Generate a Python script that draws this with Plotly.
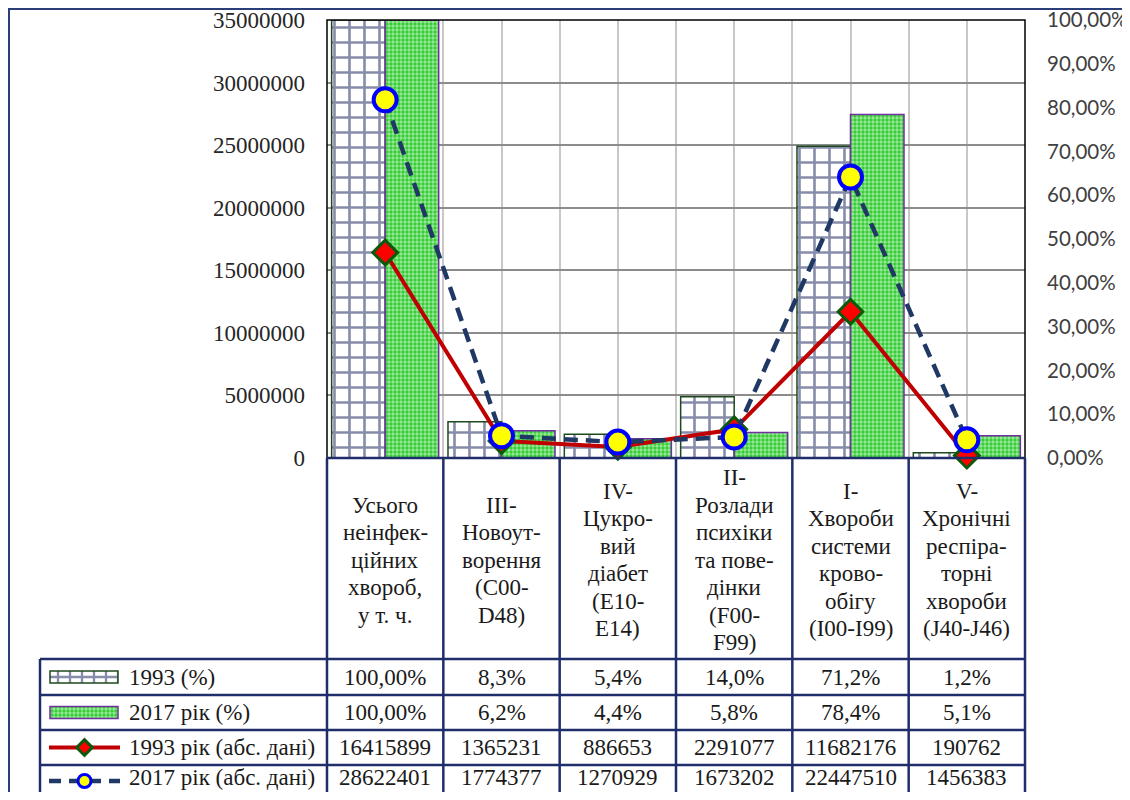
import plotly.graph_objects as go

# ---------------- data ----------------
categories = [
    ["Усього", "неінфек-", "ційних", "хвороб,", "у т. ч."],
    ["III-", "Новоут-", "ворення", "(C00-", "D48)"],
    ["IV-", "Цукро-", "вий", "діабет", "(E10-", "E14)"],
    ["II-", "Розлади", "психіки", "та пове-", "дінки", "(F00-", "F99)"],
    ["I-", "Хвороби", "системи", "крово-", "обігу", "(I00-I99)"],
    ["V-", "Хронічні", "респіра-", "торні", "хвороби", "(J40-J46)"],
]
series_names = ["1993 (%)", "2017 рік (%)", "1993 рік (абс. дані)", "2017 рік (абс. дані)"]
pct_1993 = [1.0, 0.083, 0.054, 0.140, 0.712, 0.012]
pct_2017 = [1.0, 0.062, 0.044, 0.058, 0.784, 0.051]
abs_1993 = [16415899, 1365231, 886653, 2291077, 11682176, 190762]
abs_2017 = [28622401, 1774377, 1270929, 1673202, 22447510, 1456383]
left_ticks = [0, 5000000, 10000000, 15000000, 20000000, 25000000, 30000000, 35000000]
right_ticks = [i / 10 for i in range(11)]

# ---------------- geometry helpers (screen pixels -> paper) ----------------
W, H = 1122, 784
OFF = 8  # page body margin


def PX(x):
    return (x - OFF) / W


def PY(y):
    return 1 - (y - OFF) / H


PL, PR, PT, PB = 327, 1025, 20, 458
n = len(categories)
idx = list(range(n))
colw = (PR - PL) / n

NAVY = "#1f2d6b"
GRIDNAVY = "#101a55"
GREEN = "#2ecc2e"
SERIF = "Liberation Serif"

grid_pattern = dict(shape="+", fgcolor=GRIDNAVY, bgcolor="white", size=15, solidity=0.32)
check_pattern = dict(shape=".", fgcolor="white", bgcolor=GREEN, size=4, solidity=0.55)

fig = go.Figure()

# bars (percent, right axis = primary y)
fig.add_trace(go.Bar(
    x=idx, y=pct_1993, name=series_names[0], yaxis="y", xaxis="x",
    marker=dict(color="white", line=dict(color="#1c4a1c", width=1.5), pattern=grid_pattern),
))
fig.add_trace(go.Bar(
    x=idx, y=pct_2017, name=series_names[1], yaxis="y", xaxis="x",
    marker=dict(color=GREEN, line=dict(color="#7030a0", width=1.5), pattern=check_pattern),
))
# lines (absolute, left axis = y2 overlay)
fig.add_trace(go.Scatter(
    x=idx, y=abs_1993, name=series_names[2], yaxis="y2", xaxis="x", mode="lines+markers",
    line=dict(color="#c00000", width=4),
    marker=dict(symbol="diamond", size=19, color="#ff0000", line=dict(color="#0b5a0b", width=3)),
    cliponaxis=False,
))
fig.add_trace(go.Scatter(
    x=idx, y=abs_2017, name=series_names[3], yaxis="y2", xaxis="x", mode="lines+markers",
    line=dict(color="#1f3864", width=4.5, dash="14px,8px"),
    marker=dict(symbol="circle", size=23, color="#ffff00", line=dict(color="#0000ff", width=4)),
    cliponaxis=False,
))

# ---------------- legend keys in the data table ----------------
row_lines = [659, 695, 730, 765, 805]
key_rows = [677, 712.5, 747.5, 781]
text_rows = [677, 712.5, 747.5, 777]
fig.add_trace(go.Bar(
    x=[68], base=[50], y=[key_rows[0]], orientation="h", width=12, offset=-6,
    xaxis="x3", yaxis="y3",
    marker=dict(color="white", line=dict(color="#1c4a1c", width=1.5),
                pattern=dict(shape="+", fgcolor=GRIDNAVY, bgcolor="white", size=12, solidity=0.35)),
))
fig.add_trace(go.Bar(
    x=[68], base=[50], y=[key_rows[1]], orientation="h", width=12, offset=-6,
    xaxis="x3", yaxis="y3",
    marker=dict(color=GREEN, line=dict(color="#7030a0", width=1.5), pattern=check_pattern),
))
fig.add_trace(go.Scatter(
    x=[49, 120], y=[key_rows[2]] * 2, mode="lines", xaxis="x3", yaxis="y3",
    line=dict(color="#c00000", width=4),
))
fig.add_trace(go.Scatter(
    x=[84.5], y=[key_rows[2]], mode="markers", xaxis="x3", yaxis="y3",
    marker=dict(symbol="diamond", size=12, color="#ff0000", line=dict(color="#0b5a0b", width=3)),
))
fig.add_trace(go.Scatter(
    x=[49, 120], y=[key_rows[3]] * 2, mode="lines", xaxis="x3", yaxis="y3",
    line=dict(color="#1f3864", width=4.5, dash="12px,8px"),
))
fig.add_trace(go.Scatter(
    x=[84.5], y=[key_rows[3]], mode="markers", xaxis="x3", yaxis="y3",
    marker=dict(symbol="circle", size=13, color="#ffff00", line=dict(color="#0000ff", width=3)),
))

# ---------------- shapes ----------------
shapes = []
# outer chart border
shapes.append(dict(type="rect", xref="paper", yref="paper",
                   x0=PX(9), x1=PX(1150), y0=PY(820), y1=PY(9),
                   line=dict(color="#2a3f7a", width=2), layer="below"))
# plot area border
shapes.append(dict(type="rect", xref="paper", yref="paper",
                   x0=PX(PL), x1=PX(PR), y0=PY(PB), y1=PY(PT),
                   line=dict(color="black", width=1.5), layer="above"))
# table lines
for k in range(n + 1):
    xk = PL + k * colw
    shapes.append(dict(type="line", xref="paper", yref="paper",
                       x0=PX(xk), x1=PX(xk), y0=PY(PB), y1=PY(820),
                       line=dict(color=NAVY, width=2.5), layer="above"))
shapes.append(dict(type="line", xref="paper", yref="paper",
                   x0=PX(40), x1=PX(40), y0=PY(row_lines[0]), y1=PY(820),
                   line=dict(color=NAVY, width=2.5), layer="above"))
shapes.append(dict(type="line", xref="paper", yref="paper",
                   x0=PX(PL), x1=PX(PR), y0=PY(PB), y1=PY(PB),
                   line=dict(color=NAVY, width=2.5), layer="above"))
for yr in row_lines:
    shapes.append(dict(type="line", xref="paper", yref="paper",
                       x0=PX(40), x1=PX(PR), y0=PY(yr), y1=PY(yr),
                       line=dict(color=NAVY, width=2.5), layer="above"))

# ---------------- annotations ----------------
ann = []
txtfont = dict(family=SERIF, size=23, color="#1a1a1a")
# category headers
for i, lines in enumerate(categories):
    cx = PL + (i + 0.5) * colw
    m = len(lines)
    for j, t in enumerate(lines):
        yy = 560 + (j - (m - 1) / 2) * 27.5
        ann.append(dict(xref="paper", yref="paper", x=PX(cx), y=PY(yy), text=t,
                        showarrow=False, xanchor="center", yanchor="middle", font=txtfont))


def fmt_pct(v):
    d = 2 if v >= 1 else 1
    return f"{v * 100:.{d}f}%".replace(".", ",")


rows = [
    [fmt_pct(v) for v in pct_1993],
    [fmt_pct(v) for v in pct_2017],
    [str(v) for v in abs_1993],
    [str(v) for v in abs_2017],
]
for r, (name, vals) in enumerate(zip(series_names, rows)):
    ann.append(dict(xref="paper", yref="paper", x=PX(127), y=PY(text_rows[r]), text=name,
                    showarrow=False, xanchor="left", yanchor="middle", font=txtfont))
    for i, t in enumerate(vals):
        cx = PL + (i + 0.5) * colw
        ann.append(dict(xref="paper", yref="paper", x=PX(cx), y=PY(text_rows[r]), text=t,
                        showarrow=False, xanchor="center", yanchor="middle", font=txtfont))

fig.update_layout(
    width=W, height=H,
    margin=dict(l=0, r=0, t=0, b=0, autoexpand=False),
    paper_bgcolor="white", plot_bgcolor="white",
    showlegend=False, hovermode=False,
    separators=", ",
    barmode="group", bargap=0.08, bargroupgap=0,
    xaxis=dict(domain=[PX(PL), PX(PR)], range=[-0.5, n - 0.5], automargin=False,
               tickvals=[k * 0.5 - 0.5 for k in range(2 * n + 1)],
               showticklabels=False, ticks="", showgrid=True, gridcolor="#c8c8c8",
               gridwidth=1.5, zeroline=False, showline=False, fixedrange=True),
    yaxis=dict(domain=[PY(PB), PY(PT)], range=[0, 1], side="right", anchor="x", automargin=False,
               tickvals=right_ticks, tickformat=".2%", showgrid=False, zeroline=False,
               showline=False, ticks="", ticklabelstandoff=21, ticklabeloverflow="allow",
               tickfont=dict(family="Lato", size=20.5, color="#404040")),
    yaxis2=dict(overlaying="y", side="left", anchor="x", range=[0, 35000000], automargin=False,
                tickvals=left_ticks, tickformat="d", showgrid=True, gridcolor="#8c8c8c",
                gridwidth=1.5, zeroline=False, showline=False, ticks="", ticklabelstandoff=21,
                ticklabeloverflow="allow",
                tickfont=dict(family=SERIF, size=23, color="#262626")),
    xaxis3=dict(domain=[PX(40), PX(PL)], range=[40, PL], visible=False, anchor="y3", automargin=False),
    yaxis3=dict(domain=[0, PY(row_lines[0])], range=[OFF + H, row_lines[0]], visible=False,
                anchor="x3", automargin=False),
    shapes=shapes,
    annotations=ann,
)

fig.write_html("out.html")
